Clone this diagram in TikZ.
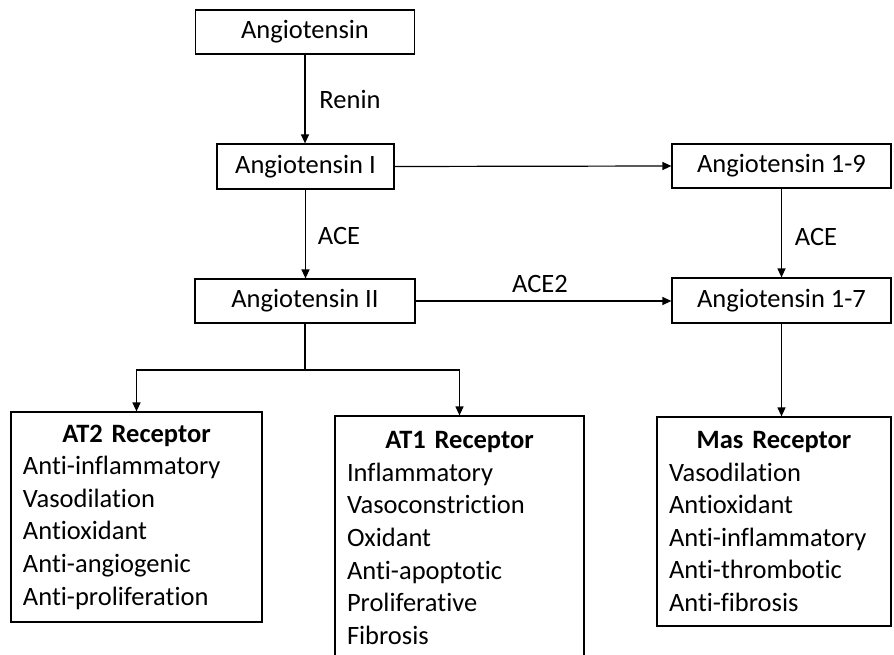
\documentclass[tikz,border=0pt]{standalone}
\usepackage{fontspec}
\setmainfont{Carlito}[Ligatures=NoCommon]
\usetikzlibrary{arrows.meta}
\begin{document}
\begin{tikzpicture}[x=1pt,y=-1pt,
  txt/.style={font=\fontsize{26.5}{32.6}\selectfont},
  box/.style={draw, line width=1.2pt, inner sep=0pt, txt},
  recbox/.style={draw, line width=1.2pt, inner xsep=12pt, inner ysep=0pt, txt, align=left},
  arr/.style={-{Triangle[length=9pt,width=8pt]}, line width=1.2pt},
  conn/.style={line width=1.2pt}]
\clip (0,0) rectangle (894,655);
\node[box, minimum width=219pt, minimum height=44pt] (ang) at (305,32) {Angiotensin};
\node[box, minimum width=177pt, minimum height=45pt] (angI) at (305.5,166.5) {Angiotensin I};
\node[box, minimum width=220pt, minimum height=44pt] (angII) at (305,301) {Angiotensin II};
\node[box, minimum width=219pt, minimum height=44pt] (a19) at (781.5,166) {Angiotensin 1-9};
\node[box, minimum width=219pt, minimum height=45pt] (a17) at (781.5,300.5) {Angiotensin 1-7};

\node[recbox, text width=227pt, minimum height=210pt] (at2) at (136.5,517)
 {\makebox[\linewidth]{\textbf{AT2 Receptor}}\\Anti-inflammatory\\Vasodilation\\Antioxidant\\Anti-angiogenic\\Anti-proliferation};
\node[recbox, text width=225pt, minimum height=244pt] (at1) at (459.5,538)
 {\makebox[\linewidth]{\textbf{AT1 Receptor}}\\Inflammatory\\Vasoconstriction\\Oxidant\\Anti-apoptotic\\Proliferative\\Fibrosis};
\node[recbox, text width=210pt, minimum height=209pt] (mas) at (774,521.5)
 {\makebox[\linewidth]{\textbf{Mas Receptor}}\\Vasodilation\\Antioxidant\\Anti-inflammatory\\Anti-thrombotic\\Anti-fibrosis};

\draw[arr] (ang.south) -- (ang.south |- angI.north);
\draw[arr] (angI.south) -- (angI.south |- angII.north);
\draw[arr] (angI.east) -- (a19.west);
\draw[arr] (a19.south) -- (a17.north);
\draw[arr] (angII.east) -- (angII.east -| a17.west);
\draw[arr] (a17.south) -- (a17.south |- mas.north);
\coordinate (br) at (305,370);
\draw[conn] (angII.south) -- (br);
\draw[arr] (br) -| (at2.north);
\draw[arr] (br) -| (at1.north);

\node[txt] (renin) at (350,99) {Renin};
\node[txt] (ace1) at (339,236) {ACE};
\node[txt] (ace2) at (816,237) {ACE};
\node[txt] (ace3) at (540,283.5) {ACE2};
\end{tikzpicture}
\end{document}
